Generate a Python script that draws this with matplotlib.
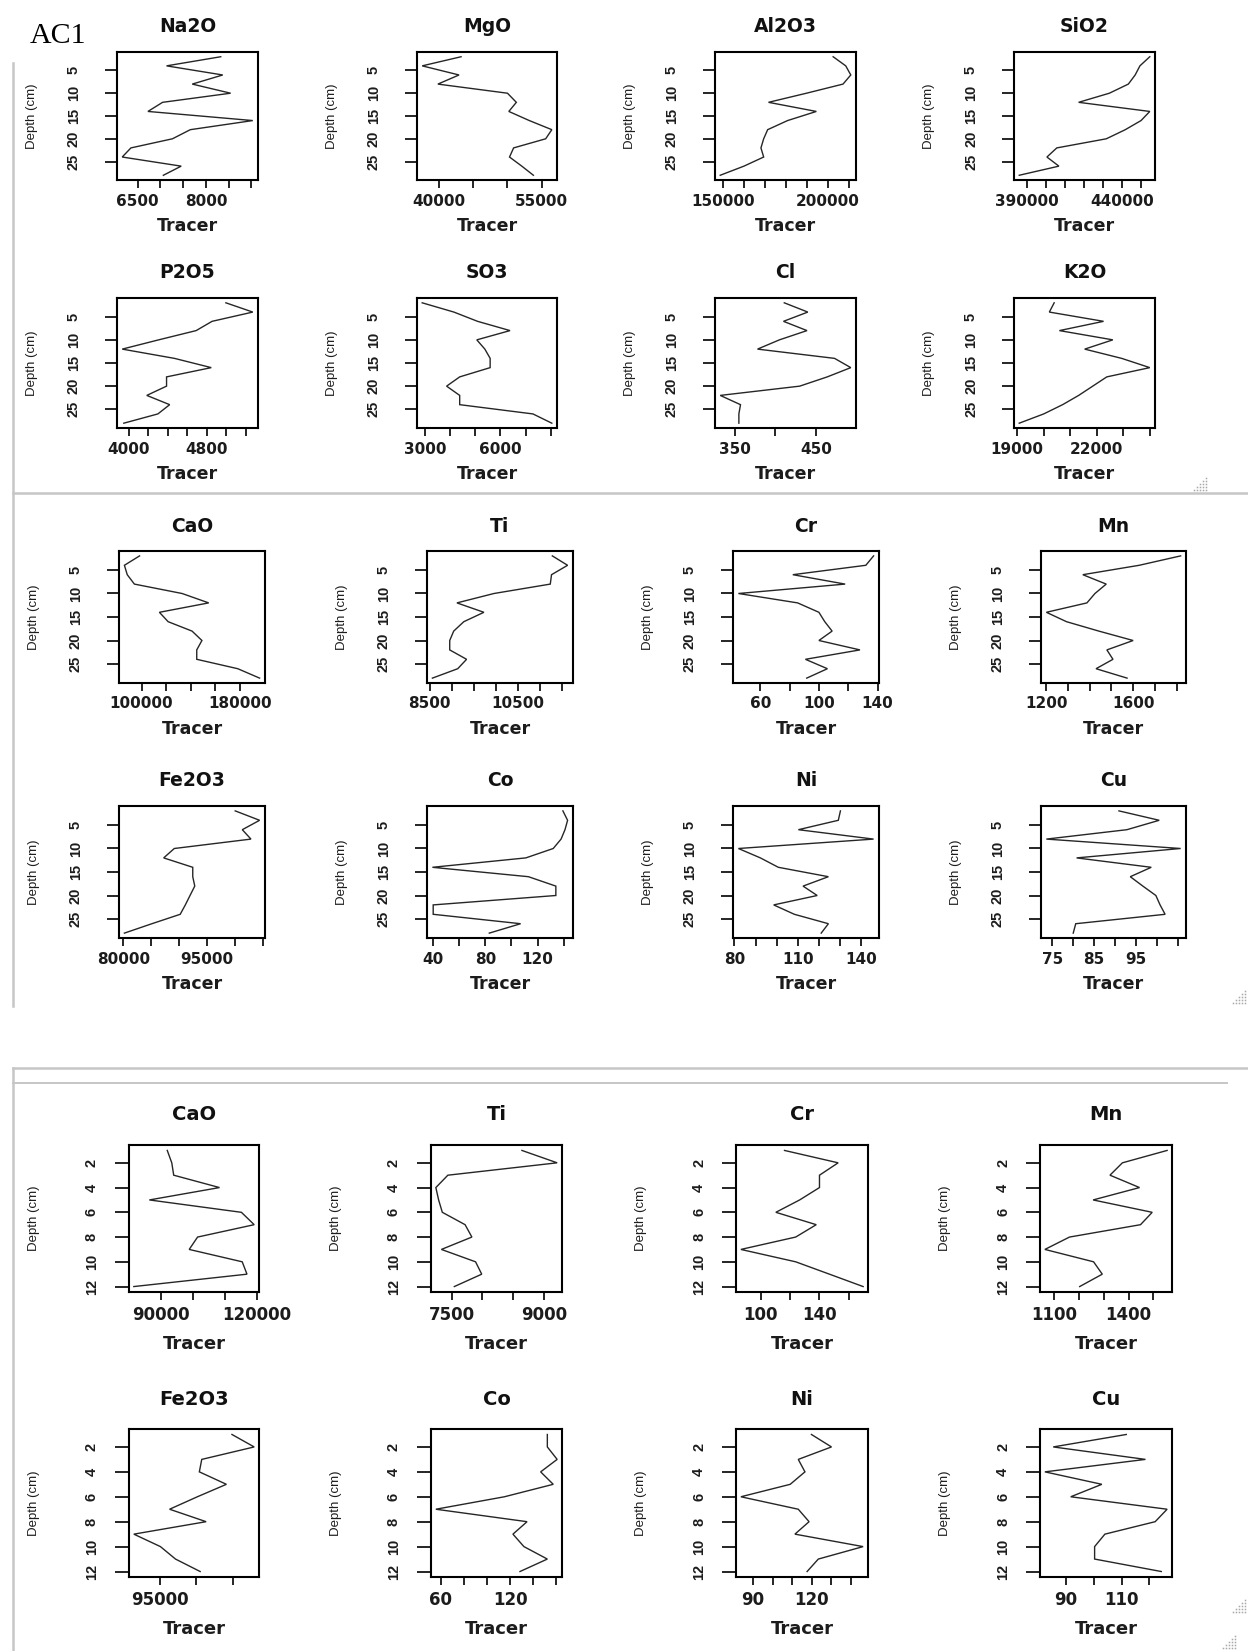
import matplotlib
matplotlib.use("Agg")
import matplotlib.pyplot as plt
from matplotlib.transforms import blended_transform_factory as blend
from matplotlib.lines import Line2D

W, H = 1248, 1651

# ---------------- data (AC1, upper two screenshots) ----------------
depth_ac1 = [2, 4, 6, 8, 10, 12, 14, 16, 18, 20, 22, 24, 26, 28]
na2o = [8326, 7135, 8370, 7700, 8543, 7048, 6726, 9030, 7657, 7265, 6352, 6161, 7457, 7065]
mgo = [43200, 37500, 42900, 39800, 50000, 51300, 50200, 53200, 56500, 55600, 50900, 50300, 52100, 53800]
al2o3 = [202500, 208500, 210900, 207200, 189800, 171700, 194500, 180800, 171300, 169400, 168100, 169400, 160000, 148700]
sio2 = [454600, 449400, 446900, 443300, 433300, 417100, 454600, 450000, 441700, 431700, 405600, 400400, 406700, 385800]
p2o5 = [4995, 5271, 4853, 4690, 4305, 3931, 4467, 4845, 4386, 4386, 4183, 4418, 4297, 3947]
so3 = [2890, 4150, 5090, 6380, 5060, 5380, 5590, 5590, 4380, 3860, 4380, 4380, 7290, 8040]
cl = [411, 440, 410, 439, 405, 378, 473, 493, 464, 430, 332, 357, 355, 355]
k2o = [20394, 20212, 22257, 20591, 22606, 21545, 22940, 24000, 22379, 21848, 21318, 20712, 20000, 19076]
cao = [98400, 86100, 88400, 94200, 132900, 154500, 114500, 121600, 141000, 149000, 144800, 144800, 178100, 195800]
ti = [11273, 11618, 11255, 11227, 9955, 9118, 9727, 9273, 9045, 8955, 8955, 9336, 9136, 8564]
cr = [137.3, 132, 82.2, 117.9, 45.1, 85.5, 100, 104, 109, 100, 128, 90.8, 105.8, 91.7]
mn = [1819, 1628, 1368, 1476, 1424, 1387, 1200, 1293, 1442, 1600, 1479, 1507, 1429, 1572]
fe2o3 = [100070, 104440, 101340, 102890, 89150, 87250, 92460, 92460, 92820, 91970, 91130, 90210, 85140, 80210]
co = [139.4, 143, 141, 138, 132, 111, 39.4, 113, 134, 134, 40, 40, 107, 83]
ni = [130.2, 129.2, 110.3, 145.9, 81.9, 92.3, 100.8, 124.5, 112.5, 119.2, 98.6, 108.4, 124.5, 121.1]
cu = [90.9, 100.5, 92.8, 73.6, 105.6, 80.8, 98.6, 93.6, 96.6, 99.7, 100.7, 101.9, 80.6, 80]

# ---------------- data (lower screenshot) ----------------
depth_b = [1, 2, 3, 4, 5, 6, 7, 8, 9, 10, 11, 12]
cao_b = [92100, 93500, 94100, 108340, 86530, 115150, 119120, 101520, 98920, 115400, 116880, 81700]
ti_b = [8643, 9215, 7440, 7245, 7290, 7350, 7720, 7830, 7335, 7890, 7990, 7545]
cr_b = [116.2, 152.7, 140, 140, 126.5, 110.3, 137.8, 123.8, 86.5, 123.8, 146.8, 169.7]
mn_b = [1555, 1375, 1325, 1444, 1257, 1495, 1448, 1162, 1063, 1259, 1294, 1203]
fe2o3_b = [104890, 107930, 100760, 100430, 104130, 100160, 96360, 101360, 91470, 95110, 97170, 100540]
co_b = [152.2, 152.2, 160.7, 146.4, 157.3, 115, 55.6, 134.6, 122.4, 131.9, 152.2, 128.5]
ni_b = [119.8, 130, 113.1, 116.5, 109, 83.9, 113.1, 118.6, 111.4, 146.1, 123.3, 117.6]
cu_b = [111.7, 85.4, 118.6, 82.4, 102.9, 91.7, 126.4, 122.1, 104, 100.3, 100.3, 124.3]

# ---------------- tick values and the tick labels that are shown ----------------
yticks_ac1 = [5, 10, 15, 20, 25]
yticks_b = [2, 4, 6, 8, 10, 12]

na2o_ticks = [6500, 7000, 7500, 8000, 8500, 9000];        na2o_lab = [6500, 8000]
mgo_ticks = [40000, 45000, 50000, 55000];                  mgo_lab = [40000, 55000]
al2o3_ticks = [150000, 160000, 170000, 180000, 190000, 200000, 210000]; al2o3_lab = [150000, 200000]
sio2_ticks = [390000, 400000, 410000, 420000, 430000, 440000, 450000]; sio2_lab = [390000, 440000]
p2o5_ticks = [4000, 4200, 4400, 4600, 4800, 5000, 5200];  p2o5_lab = [4000, 4800]
so3_ticks = [3000, 4000, 5000, 6000, 7000, 8000];          so3_lab = [3000, 6000]
cl_ticks = [350, 400, 450];                                cl_lab = [350, 450]
k2o_ticks = [19000, 20000, 21000, 22000, 23000, 24000];   k2o_lab = [19000, 22000]
cao_ticks = [100000, 120000, 140000, 160000, 180000];     cao_lab = [100000, 180000]
ti_ticks = [8500, 9000, 9500, 10000, 10500, 11000, 11500]; ti_lab = [8500, 10500]
cr_ticks = [60, 80, 100, 120, 140];                        cr_lab = [60, 100, 140]
mn_ticks = [1200, 1300, 1400, 1500, 1600, 1700, 1800];    mn_lab = [1200, 1600]
fe2o3_ticks = [80000, 85000, 90000, 95000, 100000, 105000]; fe2o3_lab = [80000, 95000]
co_ticks = [40, 60, 80, 100, 120, 140];                    co_lab = [40, 80, 120]
ni_ticks = [80, 90, 100, 110, 120, 130, 140];              ni_lab = [80, 110, 140]
cu_ticks = [75, 80, 85, 90, 95, 100, 105];                 cu_lab = [75, 85, 95]

cao_b_ticks = [90000, 100000, 110000, 120000];            cao_b_lab = [90000, 120000]
ti_b_ticks = [7500, 8000, 8500, 9000];                     ti_b_lab = [7500, 9000]
cr_b_ticks = [100, 120, 140, 160];                         cr_b_lab = [100, 140]
mn_b_ticks = [1100, 1200, 1300, 1400, 1500];               mn_b_lab = [1100, 1400]
fe2o3_b_ticks = [95000, 100000, 105000];                   fe2o3_b_lab = [95000]
co_b_ticks = [60, 80, 100, 120, 140, 160];                 co_b_lab = [60, 120]
ni_b_ticks = [90, 100, 110, 120, 130, 140];                ni_b_lab = [90, 120]
cu_b_ticks = [90, 100, 110, 120];                          cu_b_lab = [90, 110]

titles_rows = [["Na2O", "MgO", "Al2O3", "SiO2"],
               ["P2O5", "SO3", "Cl", "K2O"],
               ["CaO", "Ti", "Cr", "Mn"],
               ["Fe2O3", "Co", "Ni", "Cu"],
               ["CaO", "Ti", "Cr", "Mn"],
               ["Fe2O3", "Co", "Ni", "Cu"]]
values_rows = [[na2o, mgo, al2o3, sio2], [p2o5, so3, cl, k2o], [cao, ti, cr, mn],
               [fe2o3, co, ni, cu], [cao_b, ti_b, cr_b, mn_b], [fe2o3_b, co_b, ni_b, cu_b]]
ticks_rows = [[na2o_ticks, mgo_ticks, al2o3_ticks, sio2_ticks],
              [p2o5_ticks, so3_ticks, cl_ticks, k2o_ticks],
              [cao_ticks, ti_ticks, cr_ticks, mn_ticks],
              [fe2o3_ticks, co_ticks, ni_ticks, cu_ticks],
              [cao_b_ticks, ti_b_ticks, cr_b_ticks, mn_b_ticks],
              [fe2o3_b_ticks, co_b_ticks, ni_b_ticks, cu_b_ticks]]
labels_rows = [[na2o_lab, mgo_lab, al2o3_lab, sio2_lab],
               [p2o5_lab, so3_lab, cl_lab, k2o_lab],
               [cao_lab, ti_lab, cr_lab, mn_lab],
               [fe2o3_lab, co_lab, ni_lab, cu_lab],
               [cao_b_lab, ti_b_lab, cr_b_lab, mn_b_lab],
               [fe2o3_b_lab, co_b_lab, ni_b_lab, cu_b_lab]]

# ---------------- layout (pixels) ----------------
cols_a = [(117, 258), (417, 557), (715, 856), (1014, 1155)]
cols_c = [(119, 265), (427, 573), (733, 879), (1041, 1186)]
cols_e = [(129, 259), (431, 562), (736, 868), (1040, 1172)]
row_geom = [  # (top, bottom, columns, group)
    (52, 180, cols_a, "a"),
    (298, 428, cols_a, "a"),
    (551, 683, cols_c, "a"),
    (806, 938, cols_c, "a"),
    (1145, 1292, cols_e, "b"),
    (1429, 1577, cols_e, "b"),
]
style = {
    "a": dict(title_off=25, xlab_off=21, tracer_off=46, ylab_off=43, depth_off=85,
              ylen=8.6, xlen=5.8, fs_title=13.5, fs_tick=11, fs_tracer=12.5),
    "b": dict(title_off=30, xlab_off=23, tracer_off=52, ylab_off=37, depth_off=95,
              ylen=10.0, xlen=5.5, fs_title=14, fs_tick=12, fs_tracer=13),
}

fig = plt.figure(figsize=(W / 100, H / 100), dpi=100)
fig.patch.set_facecolor("white")

def fx(px):
    return px / W

def fy(py):
    return 1 - py / H

LINE_C = "#262626"
TXT_C = "#1c1c1c"
for r, (top, bot, cols, grp) in enumerate(row_geom):
    st = style[grp]
    depth = depth_ac1 if grp == "a" else depth_b
    yt = yticks_ac1 if grp == "a" else yticks_b
    for c, (left, right) in enumerate(cols):
        vals = values_rows[r][c]
        ax = fig.add_axes([fx(left), fy(bot), (right - left) / W, (bot - top) / H])
        ax.plot(vals, depth, color=LINE_C, lw=1.0, solid_joinstyle="miter")
        lo, hi = min(vals), max(vals)
        pad = 0.04 * (hi - lo)
        ax.set_xlim(lo - pad, hi + pad)
        dlo, dhi = min(depth), max(depth)
        dpad = 0.04 * (dhi - dlo)
        ax.set_ylim(dhi + dpad, dlo - dpad)
        ax.set_xticks(ticks_rows[r][c])
        ax.set_yticks(yt)
        ax.tick_params(axis="x", direction="out", length=st["xlen"], width=1.2,
                       color="black", labelbottom=False)
        ax.tick_params(axis="y", direction="out", length=st["ylen"], width=1.2,
                       color="black", labelleft=False)
        for sp in ax.spines.values():
            sp.set_linewidth(1.5)
            sp.set_color("black")
        # x tick labels (only those shown in the original)
        tr_x = blend(ax.transData, fig.transFigure)
        for v in labels_rows[r][c]:
            fig.text(v, fy(bot + st["xlab_off"]), str(v), transform=tr_x,
                     ha="center", va="center", fontsize=st["fs_tick"], fontweight="bold",
                     family="DejaVu Sans", color=TXT_C)
        # y tick labels, rotated as in R
        tr_y = blend(fig.transFigure, ax.transData)
        for v in yt:
            fig.text(fx(left - st["ylab_off"]), v, str(v), transform=tr_y,
                     ha="center", va="center", rotation=90, fontsize=10.5,
                     fontweight="bold", family="Liberation Sans", color=TXT_C)
        cx = fx((left + right) / 2)
        fig.text(cx, fy(top - st["title_off"]), titles_rows[r][c], ha="center", va="center",
                 fontsize=st["fs_title"], fontweight="bold", family="DejaVu Sans",
                 color="#111111")
        fig.text(cx, fy(bot + st["tracer_off"]), "Tracer", ha="center", va="center",
                 fontsize=st["fs_tracer"], fontweight="bold", family="DejaVu Sans", color=TXT_C)
        fig.text(fx(left - st["depth_off"]), fy((top + bot) / 2), "Depth (cm)",
                 ha="center", va="center", rotation=90, fontsize=9.5,
                 family="Liberation Sans", color=TXT_C)

# ---------------- decorations of the pasted screenshots ----------------
fig.text(fx(30), fy(43), "AC1", ha="left", va="baseline", fontsize=21.5,
         family="Liberation Serif", color="black")

GRAY = "#c6c6c6"
def hline(y, x0, x1, lw=1.8):
    fig.add_artist(Line2D([fx(x0), fx(x1)], [fy(y), fy(y)], color=GRAY, lw=lw))

def vline(x, y0, y1, lw=1.8):
    fig.add_artist(Line2D([fx(x), fx(x)], [fy(y0), fy(y1)], color=GRAY, lw=lw))

vline(13, 63, 1006)
hline(493, 13, 1248)
hline(1068, 13, 1248)
hline(1083, 13, 1227, lw=1.4)
vline(13, 1068, 1651)

# window resize grips (dotted triangles)
def grip(x1, y1, n=5, step=3):
    xs, ys = [], []
    for i in range(n):
        for j in range(n - i):
            xs.append(fx(x1 - j * step))
            ys.append(fy(y1 - i * step))
    fig.add_artist(Line2D(xs, ys, ls="none", marker="s", ms=1.1, mew=0,
                          color="#a8a8a8"))

grip(1206, 490)
grip(1245, 1003)
grip(1245, 1612)
grip(1235, 1648)

fig.savefig("out.png", dpi=100, facecolor="white")
